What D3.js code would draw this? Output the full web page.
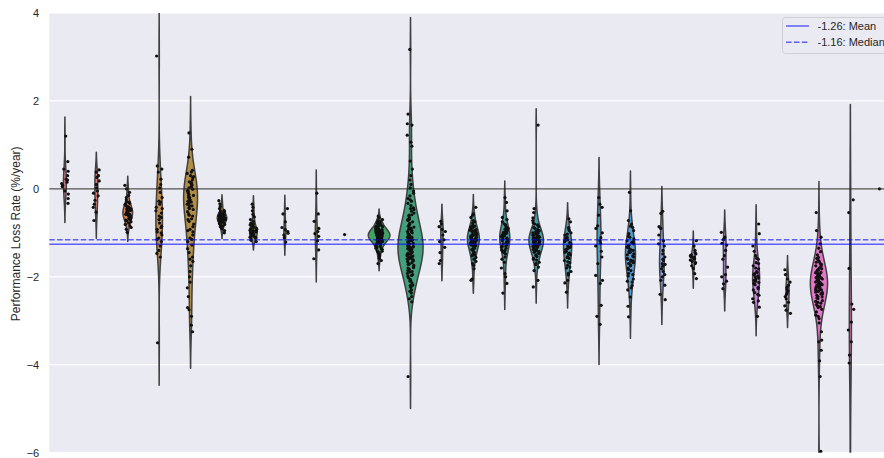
<!DOCTYPE html>
<html><head><meta charset="utf-8">
<script src="https://cdn.jsdelivr.net/npm/d3@7"></script>
<style>body{margin:0;background:#fff}svg{display:block}text{font-family:"Liberation Sans",Arial,sans-serif;fill:#262626}</style>
</head><body><svg id="c" width="884" height="458"></svg>
<script>
// ---------------- data ----------------
const categories = ["S01","S02","S03","S04","S05","S06","S07","S08","S09","S10","S11","S12","S13","S14","S15","S16","S17","S18","S19","S20","S21","S22","S23","S24","S25","S26","S27"];
const yTicks = [-6,-4,-2,0,2,4];
const meanValue = -1.26, medianValue = -1.16;
const yLabel = "Performance Loss Rate (%/year)";

const s01 = [1.2,0.62,0.45,0.4,0.3,0.22,0.2,0.15,0.12,0.08,0.05,-0.05,-0.12,-0.22,-0.33];
const s02 = [0.43,0.38,0.3,0.26,0.18,0.1,0.02,-0.05,-0.1,-0.16,-0.26,-0.35,-0.42,-0.53,-0.72];
const s03 = [0.08,0.0,-0.08,-0.15,-0.2,-0.25,-0.3,-0.33,-0.36,-0.39,-0.41,-0.43,-0.45,-0.46,-0.48,-0.49,-0.5,-0.52,-0.53,-0.55,-0.56,-0.58,-0.59,-0.6,-0.62,-0.63,-0.65,-0.67,-0.69,-0.71,-0.73,-0.75,-0.78,-0.81,-0.84,-0.88,-0.92,-0.99,-0.44,-0.57,-0.35,-0.42,-0.47,-0.51,-0.54,-0.61,-0.66,-0.7,-0.3,-0.58];
const s04 = [3.02,0.52,0.45,0.38,0.22,0.1,0.02,-0.08,-0.2,-0.28,-0.35,-0.42,-0.5,-0.55,-0.62,-0.7,-0.78,-0.85,-0.92,-0.98,-1.05,-1.12,-1.2,-1.3,-1.4,-1.47,-1.55,-3.5,-0.45,-0.65,-0.88,-1.0,-0.3,-1.15];
const s05 = [1.27,0.9,0.72,0.42,0.38,0.35,0.3,0.25,0.2,0.16,0.12,0.08,0.05,0.02,-0.01,-0.04,-0.07,-0.1,-0.13,-0.16,-0.19,-0.22,-0.25,-0.28,-0.31,-0.35,-0.39,-0.43,-0.47,-0.52,-0.57,-0.62,-0.68,-0.74,-0.8,-0.86,-0.92,-0.98,-1.05,-1.12,-1.2,-1.28,-1.36,-1.45,-1.55,-1.65,-1.75,-1.88,-2.0,-2.12,-2.25,-2.45,-2.7,-2.75,-2.9,-3.1,-3.25,0.0,-0.15,-0.3,0.1,-0.6,0.28,0.14,-0.05,-0.2,-0.38,-0.45,-0.7,-0.95,-1.15,-1.6];
const s06 = [-0.27,-0.34,-0.4,-0.45,-0.49,-0.52,-0.54,-0.56,-0.58,-0.6,-0.61,-0.62,-0.63,-0.64,-0.65,-0.66,-0.67,-0.68,-0.69,-0.7,-0.71,-0.72,-0.73,-0.74,-0.75,-0.77,-0.79,-0.81,-0.83,-0.85,-0.88,-0.91,-0.95,-1.0,-0.6,-0.65,-0.7,-0.57,-0.5,-0.55,-0.59,-0.62,-0.64,-0.67,-0.69,-0.72,-0.76,-0.8,-0.86];
const s07 = [-0.35,-0.42,-0.5,-0.58,-0.64,-0.7,-0.74,-0.78,-0.82,-0.85,-0.88,-0.9,-0.92,-0.94,-0.96,-0.97,-0.98,-1.0,-1.01,-1.02,-1.03,-1.05,-1.06,-1.08,-1.1,-1.12,-1.14,-1.17,-1.2,-0.95,-0.8,-0.87,-0.91,-0.95,-0.99,-1.02,-1.04,-1.07,-1.11];
const s08 = [-0.45,-0.57,-0.75,-0.88,-0.93,-0.97,-1.01,-1.05,-1.11,-1.21];
const s09 = [-0.1,-0.57,-0.74,-0.9,-0.97,-1.02,-1.08,-1.18,-1.39,-1.59];
const s10 = [-1.04];
const s11 = [-0.62,-0.66,-0.7,-0.72,-0.75,-0.77,-0.79,-0.8,-0.82,-0.84,-0.85,-0.87,-0.88,-0.9,-0.91,-0.92,-0.93,-0.94,-0.95,-0.96,-0.97,-0.98,-0.98,-0.99,-1.0,-1.0,-1.01,-1.02,-1.03,-1.03,-1.04,-1.05,-1.05,-1.06,-1.07,-1.08,-1.08,-1.09,-1.1,-1.1,-1.11,-1.12,-1.13,-1.13,-1.14,-1.15,-1.16,-1.17,-1.18,-1.19,-1.2,-1.21,-1.22,-1.23,-1.25,-1.26,-1.28,-1.3,-1.32,-1.34,-1.36,-1.38,-1.41,-1.44,-1.47,-1.5,-1.54,-1.58,-1.63,-1.7,-0.9,-0.95,-0.99,-1.01,-1.04,-1.06,-1.09,-1.11,-1.14,-1.16,-1.0,-1.07,-1.12,-0.97,-1.2,-0.86,-0.74,-0.78,-0.83,-0.86,-0.89,-0.92,-0.94,-0.96,-0.99,-1.01,-1.02,-1.04,-1.06,-1.07,-1.09,-1.11,-1.12,-1.15,-1.17,-1.19,-1.22,-1.24,-1.27,-1.31,-1.35,-1.42];
const s12 = [3.17,1.7,1.48,1.45,1.22,1.06,0.97,0.63,0.45,0.3,0.2,0.1,0.02,-0.05,-0.1,-0.16,-0.22,-0.28,-0.33,-0.38,-0.43,-0.47,-0.51,-0.55,-0.59,-0.62,-0.66,-0.69,-0.72,-0.75,-0.78,-0.81,-0.84,-0.87,-0.9,-0.92,-0.95,-0.97,-1.0,-1.02,-1.04,-1.06,-1.08,-1.1,-1.12,-1.14,-1.16,-1.18,-1.2,-1.22,-1.24,-1.26,-1.28,-1.3,-1.32,-1.34,-1.36,-1.38,-1.4,-1.42,-1.44,-1.46,-1.48,-1.5,-1.52,-1.54,-1.56,-1.58,-1.6,-1.62,-1.65,-1.68,-1.71,-1.74,-1.77,-1.8,-1.83,-1.86,-1.89,-1.92,-1.95,-1.98,-2.02,-2.06,-2.1,-2.14,-2.19,-2.24,-2.3,-2.37,-2.45,-2.57,-4.27,-1.25,-1.35,-1.45,-1.15,-0.85,-1.55,-1.7,-1.33,-1.49,-1.61,-0.25,-0.45,-0.6,-0.7,-0.8,-0.9,-0.98,-1.05,-1.1,-1.18,-1.27,-1.31,-1.37,-1.41,-1.47,-1.53,-1.59,-1.64,-1.72,-1.79,-1.88,-1.97,-2.08,-2.2,-2.33,-2.5,-1.12];
const s13 = [-0.74,-0.8,-0.86,-0.92,-0.97,-1.05,-1.16,-1.2,-1.33,-1.45,-1.63,-1.7];
const s14 = [-0.42,-0.57,-0.65,-0.72,-0.78,-0.83,-0.87,-0.91,-0.94,-0.97,-1.0,-1.02,-1.04,-1.06,-1.08,-1.1,-1.12,-1.14,-1.16,-1.18,-1.2,-1.22,-1.24,-1.26,-1.28,-1.3,-1.33,-1.36,-1.39,-1.42,-1.45,-1.48,-1.52,-1.56,-1.6,-1.65,-1.74,-1.82,-2.05,-2.08,-1.05,-1.15,-1.25,-0.95,-1.35,-0.88,-1.11,-1.19,-0.6,-0.75,-0.85,-0.93,-0.99,-1.03,-1.07,-1.13,-1.17,-1.23,-1.29,-1.38,-1.5,-1.7];
const s15 = [-0.2,-0.31,-0.5,-0.65,-0.75,-0.82,-0.86,-0.9,-0.94,-0.98,-1.01,-1.04,-1.07,-1.1,-1.13,-1.16,-1.19,-1.22,-1.25,-1.28,-1.31,-1.35,-1.39,-1.43,-1.48,-1.55,-1.67,-1.8,-1.93,-2.0,-2.15,-2.37,-1.0,-1.05,-1.12,-0.96,-1.2,-1.3,-0.88,-1.4,-0.8,-0.92,-0.99,-1.03,-1.08,-1.14,-1.18,-1.24,-1.33,-1.45,-1.6,-0.7];
const s16 = [1.45,-0.45,-0.54,-0.66,-0.72,-0.77,-0.82,-0.86,-0.9,-0.93,-0.96,-0.99,-1.02,-1.04,-1.06,-1.08,-1.1,-1.12,-1.14,-1.16,-1.18,-1.2,-1.22,-1.24,-1.26,-1.28,-1.3,-1.32,-1.35,-1.38,-1.41,-1.44,-1.47,-1.5,-1.54,-1.58,-1.62,-1.67,-1.72,-1.78,-1.86,-2.08,-2.23,-1.0,-1.05,-1.11,-1.15,-1.19,-1.21,-1.25,-1.09,-1.17,-1.29,-1.34,-0.95,-1.4,-1.13,-1.23,-0.8,-0.88,-0.97,-1.01,-1.03,-1.07,-1.12,-1.16,-1.2,-1.24,-1.27,-1.31,-1.37,-1.43,-1.52,-1.6,-1.7];
const s17 = [-0.68,-0.75,-0.88,-0.95,-1.0,-1.05,-1.1,-1.14,-1.18,-1.22,-1.26,-1.3,-1.34,-1.38,-1.42,-1.46,-1.5,-1.54,-1.58,-1.63,-1.68,-1.74,-1.8,-1.88,-1.96,-2.08,-2.14,-2.35,-1.2,-1.32,-1.44,-1.12,-0.9,-1.03,-1.16,-1.24,-1.36,-1.48,-1.56,-1.66,-1.78,-1.92];
const s18 = [-0.2,-0.35,-0.42,-0.6,-0.84,-0.9,-1.0,-1.11,-1.18,-1.24,-1.3,-1.42,-1.55,-1.7,-1.97,-2.08,-2.15,-2.65,-2.9,-3.08];
const s19 = [-0.08,-0.5,-0.72,-0.8,-0.88,-0.95,-1.02,-1.08,-1.14,-1.2,-1.25,-1.3,-1.35,-1.4,-1.45,-1.5,-1.55,-1.6,-1.65,-1.7,-1.75,-1.8,-1.86,-1.92,-1.98,-2.05,-2.12,-2.2,-2.3,-2.46,-2.67,-2.91,-1.28,-1.38,-1.48,-1.58,-1.68,-1.18,-1.62,-1.42,-0.85,-1.1,-1.22,-1.33,-1.44,-1.53,-1.64,-1.73,-1.83,-1.95,-2.1,-2.25];
const s20 = [-0.51,-0.56,-0.86,-0.9,-1.05,-1.18,-1.25,-1.4,-1.48,-1.55,-1.63,-1.7,-1.76,-1.82,-1.88,-1.95,-2.0,-2.08,-2.19,-2.4,-2.52,-1.6,-1.3,-1.72];
const s21 = [-1.18,-1.3,-1.4,-1.45,-1.48,-1.5,-1.52,-1.54,-1.55,-1.56,-1.58,-1.6,-1.62,-1.65,-1.68,-1.7,-1.75,-1.81,-1.93,-2.04];
const s22 = [-0.99,-1.1,-1.15,-1.24,-1.28,-1.4,-1.52,-1.6,-1.78,-1.95,-2.0,-2.1,-2.16,-2.27];
const s23 = [-0.8,-1.02,-1.3,-1.42,-1.52,-1.6,-1.68,-1.75,-1.82,-1.88,-1.93,-1.98,-2.03,-2.08,-2.13,-2.18,-2.24,-2.3,-2.36,-2.42,-2.5,-2.58,-2.69,-2.9,-1.9,-2.0,-2.1,-1.7,-1.58,-1.8,-1.95,-2.05,-2.15,-2.27,-2.4,-2.55];
const s24 = [-1.84,-1.95,-2.05,-2.12,-2.19,-2.24,-2.28,-2.32,-2.36,-2.4,-2.45,-2.5,-2.58,-2.66,-2.76,-2.83];
const s25 = [-0.54,-0.95,-1.1,-1.25,-1.35,-1.43,-1.5,-1.56,-1.62,-1.67,-1.72,-1.76,-1.8,-1.84,-1.88,-1.91,-1.94,-1.97,-2.0,-2.03,-2.06,-2.09,-2.12,-2.15,-2.18,-2.21,-2.24,-2.27,-2.3,-2.33,-2.36,-2.39,-2.42,-2.46,-2.5,-2.54,-2.58,-2.63,-2.68,-2.74,-2.8,-2.87,-2.95,-3.05,-3.25,-3.44,-3.48,-3.67,-3.91,-4.27,-5.97,-2.1,-2.2,-2.0,-1.9,-2.3,-2.15,-2.25,-1.95,-2.05,-2.35,-2.4,-1.85,-2.6,-1.75,-2.12,-2.18,-1.98,-2.22,-2.45,-1.65,-2.7,-2.08,-2.28,-1.58,-1.7,-1.82,-1.93,-2.02,-2.1,-2.17,-2.24,-2.32,-2.38,-2.48,-2.56,-2.66,-2.9,-6.9];
const s26 = [-0.25,-0.54,-1.81,-2.62,-2.74,-3.03,-3.21,-3.48,-3.78,-3.96,-6.7];
const s27 = [0.0];
const seriesValues = [s01,s02,s03,s04,s05,s06,s07,s08,s09,s10,s11,s12,s13,s14,s15,s16,s17,s18,s19,s20,s21,s22,s23,s24,s25,s26,s27];

// ---------------- colours (seaborn husl palette, desaturated .75) ----------------
const M=[[3.240969941904521,-1.537383177570093,-0.498610760293],[-0.96924363628087,1.87596750150772,0.041555057407175],[0.055630079696993,-0.20397695888897,1.056971514242878]];
const refU=0.19783000664283, refV=0.46831999493879, kappa=903.2962962, eps=0.0088564516;
function bounds(L){const res=[];const sub1=Math.pow(L+16,3)/1560896;const sub2=sub1>eps?sub1:L/kappa;
  for(const [m1,m2,m3] of M){for(const t of [0,1]){const top1=(284517*m1-94839*m3)*sub2;const top2=(838422*m3+769860*m2+731718*m1)*L*sub2-769860*t*L;const bottom=(632260*m3-126452*m2)*sub2+126452*t;res.push([top1/bottom,top2/bottom]);}}return res;}
function maxChroma(L,H){const hr=H/360*Math.PI*2;let mn=Infinity;for(const [s,i] of bounds(L)){const len=i/(Math.sin(hr)-s*Math.cos(hr));if(len>=0)mn=Math.min(mn,len);}return mn;}
function husl(H,S,L){const C=maxChroma(L,H)/100*S;const hr=H/360*2*Math.PI;const U=Math.cos(hr)*C,V=Math.sin(hr)*C;
  const Y=L<=8?L/kappa:Math.pow((L+16)/116,3);const vU=U/(13*L)+refU,vV=V/(13*L)+refV;
  const X=0-(9*Y*vU)/((vU-4)*vV-vU*vV);const Z=(9*Y-15*vV*Y-vV*X)/(3*vV);
  return M.map(r=>{const c=r[0]*X+r[1]*Y+r[2]*Z;const v=c<=0.0031308?12.92*c:1.055*Math.pow(c,1/2.4)-0.055;return Math.max(0,Math.min(1,v));});}
const nC=categories.length;
const colors=categories.map((c,i)=>{let h=(i/nC+0.01)%1*359;const rgb=husl(h,0.9*99,0.65*99);const hs=d3.hsl(d3.rgb(rgb[0]*255,rgb[1]*255,rgb[2]*255));hs.s*=0.75;return hs;});
const lum=d3.min(colors,c=>c.l)*0.6;
const gray=d3.rgb(lum*255,lum*255,lum*255).formatHex();

// ---------------- layout ----------------
const svg=d3.select("#c");
const plotL=49.2, plotR=897.5, plotT=12.9, plotB=452.7;
const x=d3.scaleBand().domain(categories).range([plotL,plotR]).padding(0);
const y=d3.scaleLinear().domain([-6,4]).range([plotB,plotT]);
const bwPx=x.bandwidth();

svg.append("rect").attr("x",plotL).attr("y",plotT).attr("width",plotR-plotL).attr("height",plotB-plotT).attr("fill","#eaeaf2");
svg.append("defs").append("clipPath").attr("id","clip").append("rect").attr("x",plotL).attr("y",plotT).attr("width",plotR-plotL).attr("height",plotB-plotT);

// grid
svg.append("g").selectAll("line").data(yTicks).join("line")
  .attr("x1",plotL).attr("x2",plotR).attr("y1",d=>y(d)).attr("y2",d=>y(d))
  .attr("stroke","#fff").attr("stroke-width",1.2);

// y axis labels
const yAxis=d3.axisLeft(y).tickValues(yTicks).tickSize(0).tickPadding(10).tickFormat(d3.format("d"));
const ga=svg.append("g").attr("transform",`translate(${plotL},0)`).call(yAxis);
ga.select(".domain").remove();
ga.selectAll("text").attr("font-size",11).style("font-family",'"Liberation Sans",Arial,sans-serif').attr("fill","#262626");
svg.append("text").attr("transform",`translate(20,${(plotT+plotB)/2+1}) rotate(-90)`).attr("text-anchor","middle").attr("font-size",12).text(yLabel);

// violins
const cut=2, gridsize=100;
const maxN=d3.max(seriesValues,v=>v.length);
const g=svg.append("g").attr("clip-path","url(#clip)");
seriesValues.forEach((vals,i)=>{
  const cx=x(categories[i])+bwPx/2;
  const n=vals.length;
  const halfMax=0.4*bwPx;
  if(n<2){
    g.append("line").attr("x1",cx-halfMax/maxN).attr("x2",cx+halfMax/maxN).attr("y1",y(vals[0])).attr("y2",y(vals[0])).attr("stroke",gray).attr("stroke-width",1.5);
    return;
  }
  const bw=d3.deviation(vals)*Math.pow(n,-0.2);
  const lo=d3.min(vals)-cut*bw, hi=d3.max(vals)+cut*bw;
  const grid=d3.range(gridsize).map(k=>lo+(hi-lo)*k/(gridsize-1));
  let dens=grid.map(t=>d3.sum(vals,v=>Math.exp(-0.5*((t-v)/bw)**2)));
  const dm=d3.max(dens);
  dens=dens.map(d=>d/dm*n/maxN);
  const pts=grid.map((t,k)=>({v:t,d:dens[k]}));
  const area=d3.area().y(p=>y(p.v)).x0(p=>cx-p.d*halfMax).x1(p=>cx+p.d*halfMax);
  g.append("path").attr("d",area(pts)).attr("fill",colors[i].formatHex()).attr("stroke",gray).attr("stroke-width",1.5).attr("stroke-linejoin","round");
});

// strip points
const rnd=d3.randomUniform.source(d3.randomLcg(0.4213))(-0.11,0.11);
seriesValues.forEach((vals,i)=>{
  const cx=x(categories[i])+bwPx/2;
  vals.forEach(v=>{
    g.append("circle").attr("cx",cx+rnd()*bwPx).attr("cy",y(v)).attr("r",1.6).attr("fill","#111");
  });
});

// reference lines
g.append("line").attr("x1",plotL).attr("x2",plotR).attr("y1",y(0)).attr("y2",y(0)).attr("stroke","#222").attr("stroke-opacity",0.8).attr("stroke-width",1.3);
g.append("line").attr("x1",plotL).attr("x2",plotR).attr("y1",y(meanValue)).attr("y2",y(meanValue)).attr("stroke","blue").attr("stroke-opacity",0.6).attr("stroke-width",1.5);
g.append("line").attr("x1",plotL).attr("x2",plotR).attr("y1",y(medianValue)).attr("y2",y(medianValue)).attr("stroke","blue").attr("stroke-opacity",0.6).attr("stroke-width",1.5).attr("stroke-dasharray","5.5,2.4");

// legend
const legendItems=[{label:`${meanValue.toFixed(2)}: Mean`,dash:null},{label:`${medianValue.toFixed(2)}: Median`,dash:"5.5,2.4"}];
const lg=svg.append("g");
lg.append("rect").attr("x",782.5).attr("y",17.5).attr("width",130).attr("height",36).attr("rx",3).attr("fill","#eaeaf2").attr("stroke","#cfcfd6").attr("stroke-width",1);
legendItems.forEach((it,k)=>{
  const yy=26+k*16.3;
  lg.append("line").attr("x1",786).attr("x2",809).attr("y1",yy).attr("y2",yy).attr("stroke","blue").attr("stroke-opacity",0.6).attr("stroke-width",1.5).attr("stroke-dasharray",it.dash);
  lg.append("text").attr("x",817.5).attr("y",yy+4).attr("font-size",11).text(it.label);
});
</script></body></html>
